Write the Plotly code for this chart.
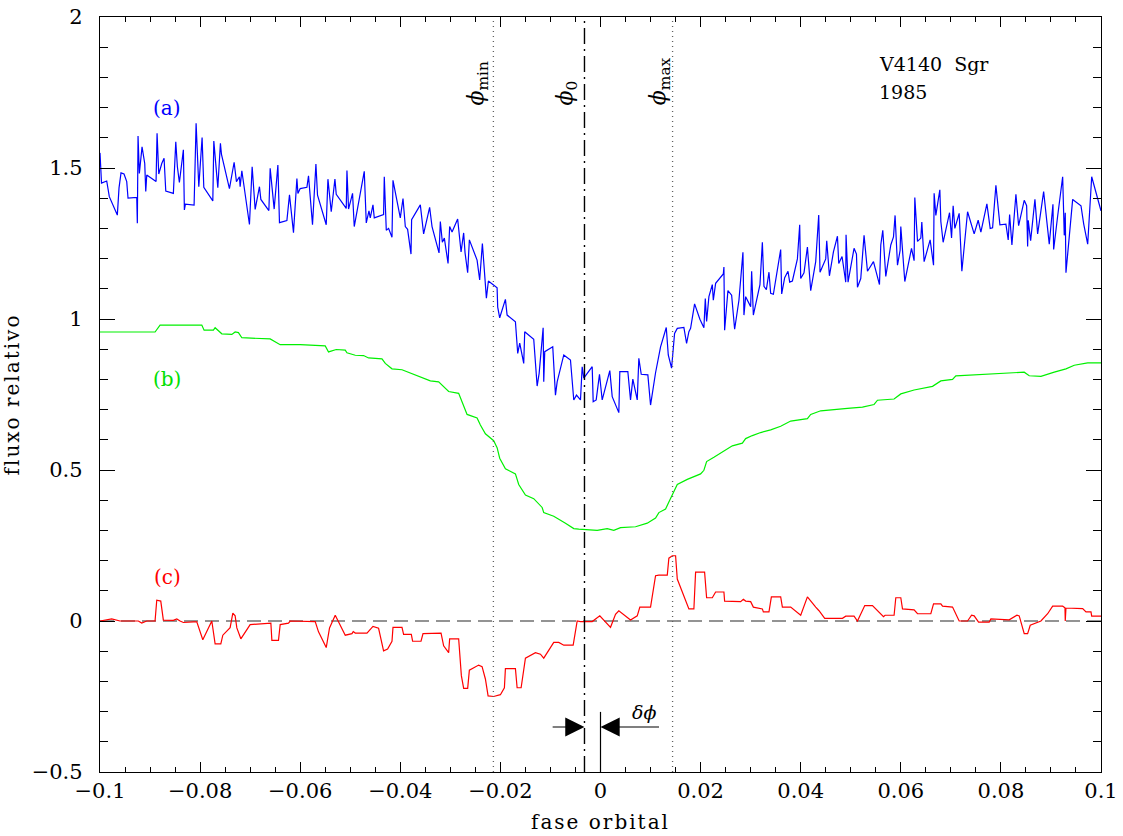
import plotly.graph_objects as go

# (a) observed light curve of V4140 Sgr, 1985
blue_phase = [
    -0.1000, -0.0997, -0.09866, -0.09814, -0.09654, -0.0962, -0.0958, -0.0952, -0.09466, -0.0944,
    -0.09266, -0.09254, -0.0924, -0.09214, -0.0916, -0.09106, -0.09086, -0.09066, -0.0888, -0.0886,
    -0.08826, -0.08766, -0.0872, -0.08686, -0.08534, -0.08486, -0.08454, -0.08414, -0.08334, -0.08314,
    -0.08294, -0.0812, -0.0808, -0.08026, -0.0796, -0.07926, -0.07746, -0.07726, -0.07646, -0.07594,
    -0.07574, -0.07414, -0.0732, -0.07274, -0.07214, -0.0720, -0.07166, -0.07014, -0.0696, -0.0690,
    -0.06814, -0.06786, -0.06626, -0.0660, -0.0652, -0.06446, -0.06414, -0.06266, -0.06214, -0.06134,
    -0.06066, -0.06046, -0.0600,
    -0.05866, -0.05834, -0.05754, -0.05686, -0.05654, -0.0548, -0.05446, -0.0538, -0.05306, -0.0528,
    -0.0508, -0.05066, -0.05034, -0.04954, -0.0492, -0.0472, -0.0468, -0.04626, -0.0460, -0.04546,
    -0.0452, -0.04334, -0.0432, -0.0428, -0.04234, -0.04166, -0.04146, -0.0400, -0.03946, -0.0390,
    -0.03854, -0.03786, -0.03774, -0.0360, -0.03534, -0.03414, -0.03366, -0.03226, -0.0320, -0.0316,
    -0.0312, -0.03046, -0.03014, -0.02966, -0.02854, -0.02786, -0.02734, -0.02706, -0.02654, -0.0262,
    -0.02466, -0.02414, -0.0236, -0.0228, -0.0224, -0.02066, -0.02054, -0.02014,
    -0.0190, -0.01866, -0.0170, -0.01654, -0.01614, -0.01534, -0.01514, -0.01334, -0.01266, -0.01226,
    -0.01146, -0.01134, -0.01114, -0.00954, -0.0090, -0.00866, -0.00734, -0.0060, -0.00534, -0.0048,
    -0.0040, -0.00366, -0.00334, -0.00166, -0.00146, -0.00086, -0.0002, 0.00034, 0.00186, 0.00234,
    0.00366, 0.00386, 0.00546, 0.0060, 0.00646, 0.00734, 0.00766, 0.00814, 0.00946, 0.0100,
    0.0110, 0.0120, 0.01314, 0.01354, 0.0142, 0.0148, 0.01534, 0.01666, 0.0172, 0.01766,
    0.0180, 0.0188, 0.01986,
    0.02066, 0.02094, 0.0212, 0.02166, 0.02234, 0.02254, 0.0230, 0.02454, 0.02466, 0.0248,
    0.02546, 0.0262, 0.0268, 0.02766, 0.02846, 0.02866, 0.0290, 0.0300, 0.0302, 0.03054,
    0.03186, 0.03234, 0.03266, 0.03314, 0.03366, 0.0340, 0.03454, 0.0360, 0.0362, 0.0368,
    0.03746, 0.0378, 0.03834, 0.03934, 0.0398, 0.0400, 0.04066, 0.04134, 0.0420, 0.0430,
    0.0436, 0.04386, 0.0450, 0.0452, 0.04574, 0.04654, 0.04734, 0.0476, 0.04826, 0.0490,
    0.04906, 0.04946, 0.05066, 0.05114, 0.05134, 0.0520, 0.05266, 0.05334, 0.05454, 0.0552,
    0.05574, 0.0560, 0.0564, 0.0570, 0.0580, 0.05854, 0.05886, 0.05934, 0.05986,
    0.0600, 0.06034, 0.0608, 0.06214, 0.06266, 0.0628, 0.06334, 0.0640, 0.0642, 0.06466,
    0.06586, 0.06654, 0.06666, 0.0670, 0.0678, 0.0680, 0.06846, 0.06974, 0.07014, 0.07046,
    0.0708, 0.07166, 0.0722, 0.07334, 0.0740, 0.07466, 0.07546, 0.0760, 0.0772, 0.07786,
    0.07834, 0.0790, 0.0798, 0.0810, 0.08146, 0.08174, 0.0822, 0.0830, 0.08354, 0.08466,
    0.08514, 0.08534, 0.08546, 0.08594, 0.0868, 0.08734, 0.08854, 0.0892, 0.08966, 0.0904,
    0.09054, 0.09134, 0.09234, 0.09266, 0.09286, 0.0930, 0.09434, 0.0960, 0.09654, 0.09734,
    0.09814, 0.1000,
]
blue_flux = [
    1.55, 1.45, 1.457, 1.405, 1.344, 1.434, 1.484, 1.480, 1.455, 1.40,
    1.403, 1.317, 1.606, 1.482, 1.570, 1.515, 1.422, 1.477, 1.455, 1.615,
    1.480, 1.515, 1.532, 1.424, 1.416, 1.587, 1.504, 1.452, 1.560, 1.361,
    1.380, 1.377, 1.648, 1.438, 1.601, 1.436, 1.391, 1.589, 1.435, 1.582,
    1.546, 1.432, 1.519, 1.455, 1.471, 1.438, 1.491, 1.313, 1.504, 1.363,
    1.438, 1.396, 1.359, 1.499, 1.364, 1.510, 1.319, 1.326, 1.411, 1.286,
    1.465, 1.416, 1.432,
    1.436, 1.474, 1.312, 1.513, 1.410, 1.312, 1.463, 1.355, 1.463, 1.413,
    1.366, 1.492, 1.364, 1.416, 1.306, 1.489, 1.318, 1.358, 1.335, 1.378,
    1.335, 1.346, 1.471, 1.294, 1.300, 1.271, 1.459, 1.335, 1.399, 1.306,
    1.297, 1.215, 1.329, 1.378, 1.282, 1.370, 1.306, 1.219, 1.323, 1.254,
    1.268, 1.184, 1.306, 1.288, 1.331, 1.222, 1.285, 1.219, 1.153, 1.262,
    1.195, 1.129, 1.250, 1.069, 1.126, 1.103, 1.039, 1.004,
    1.065, 1.013, 0.991, 0.886, 0.920, 0.853, 0.958, 0.933, 0.778, 0.820,
    0.971, 0.792, 0.892, 0.908, 0.748, 0.792, 0.881, 0.864, 0.732, 0.748,
    0.732, 0.842, 0.804, 0.842, 0.726, 0.732, 0.817, 0.732, 0.829, 0.743,
    0.690, 0.826, 0.826, 0.732, 0.801, 0.732, 0.870, 0.817, 0.815, 0.715,
    0.822, 0.908, 0.972, 0.881, 0.837, 0.952, 0.969, 0.972, 0.919, 0.958,
    0.969, 1.050, 0.999,
    0.971, 1.068, 0.992, 1.074, 1.114, 1.062, 1.118, 1.149, 1.172, 0.963,
    1.094, 1.079, 0.966, 1.062, 1.221, 1.013, 1.074, 1.041, 1.158, 1.013,
    1.114, 1.254, 1.108, 1.097, 1.155, 1.085, 1.082, 1.230, 1.083, 1.137,
    1.158, 1.122, 1.126, 1.199, 1.312, 1.134, 1.153, 1.238, 1.094, 1.190,
    1.344, 1.155, 1.199, 1.259, 1.143, 1.222, 1.274, 1.184, 1.207, 1.122,
    1.279, 1.122, 1.234, 1.215, 1.105, 1.134, 1.277, 1.158, 1.190, 1.143,
    1.114, 1.245, 1.294, 1.141, 1.245, 1.272, 1.343, 1.178, 1.227,
    1.306, 1.236, 1.124, 1.234, 1.193, 1.402, 1.257, 1.268, 1.321, 1.190,
    1.262, 1.178, 1.416, 1.343, 1.428, 1.323, 1.254, 1.352, 1.268, 1.375,
    1.300, 1.350, 1.158, 1.355, 1.318, 1.282, 1.327, 1.288, 1.381, 1.300,
    1.302, 1.443, 1.312, 1.314, 1.262, 1.346, 1.245, 1.413, 1.309, 1.393,
    1.375, 1.240, 1.327, 1.259, 1.396, 1.282, 1.422, 1.312, 1.248, 1.380,
    1.230, 1.341, 1.471, 1.277, 1.352, 1.153, 1.396, 1.375, 1.315, 1.248,
    1.471, 1.358,
]

# (b) model light curve
green_phase = [
    -0.1, -0.089, -0.088, -0.07966, -0.0792, -0.07734, -0.077, -0.07566, -0.07366, -0.073,
    -0.07234, -0.07166, -0.066, -0.064, -0.06, -0.055, -0.05434, -0.0528, -0.051, -0.05066,
    -0.049, -0.04734, -0.04634, -0.04366, -0.043, -0.04166, -0.03966, -0.038, -0.036, -0.034,
    -0.03234, -0.03034, -0.02834, -0.02666, -0.02466, -0.024, -0.023, -0.02134, -0.02066, -0.02014,
    -0.019, -0.017, -0.01634, -0.015, -0.01334, -0.01166, -0.01134, -0.00934, -0.007, -0.00534,
    -0.00434, -0.00066, 0.00134, 0.00266, 0.004, 0.007, 0.00934, 0.011, 0.01166, 0.013,
    0.01366, 0.01434, 0.01534, 0.01734, 0.02, 0.02066, 0.0212, 0.02266, 0.02466, 0.02634,
    0.02834, 0.029, 0.03034, 0.032, 0.034, 0.036, 0.038, 0.04134, 0.042, 0.044,
    0.04934, 0.05234, 0.05466, 0.05534, 0.05866, 0.06, 0.06266, 0.06634, 0.068, 0.07034,
    0.071, 0.074, 0.083, 0.08466, 0.08566, 0.088, 0.09066, 0.093, 0.09466, 0.09734,
    0.1,
]
green_flux = [
    0.957, 0.957, 0.980, 0.980, 0.963, 0.963, 0.971, 0.951, 0.949, 0.957,
    0.955, 0.938, 0.934, 0.915, 0.915, 0.911, 0.891, 0.899, 0.897, 0.888,
    0.880, 0.879, 0.871, 0.868, 0.853, 0.835, 0.832, 0.821, 0.809, 0.795,
    0.792, 0.760, 0.754, 0.684, 0.672, 0.649, 0.620, 0.597, 0.574, 0.539,
    0.504, 0.487, 0.452, 0.417, 0.405, 0.376, 0.359, 0.347, 0.324, 0.306,
    0.304, 0.300, 0.306, 0.300, 0.309, 0.312, 0.324, 0.341, 0.359, 0.371,
    0.394, 0.417, 0.452, 0.469, 0.487, 0.499, 0.528, 0.542, 0.563, 0.580,
    0.589, 0.604, 0.614, 0.624, 0.633, 0.645, 0.662, 0.670, 0.684, 0.696,
    0.704, 0.708, 0.717, 0.731, 0.735, 0.752, 0.765, 0.777, 0.795, 0.800,
    0.812, 0.815, 0.824, 0.824, 0.812, 0.810, 0.824, 0.835, 0.847, 0.855,
    0.855,
]

# (c) residuals
red_phase = [
    -0.1, -0.09834, -0.09766, -0.096, -0.09234, -0.09166, -0.09066, -0.089, -0.08866, -0.08786,
    -0.08734, -0.08534, -0.08466, -0.084, -0.08334, -0.08134, -0.08066, -0.07946, -0.07766, -0.077,
    -0.07586, -0.07546, -0.074, -0.07346, -0.073, -0.07266, -0.07186, -0.07, -0.06666, -0.06586,
    -0.06566, -0.06434, -0.064, -0.06234, -0.062, -0.057, -0.05634, -0.0548, -0.05414, -0.053,
    -0.051, -0.04966, -0.0494, -0.049, -0.04666, -0.04546, -0.04434, -0.04334, -0.04254, -0.04166,
    -0.04146, -0.03966, -0.03934, -0.0378, -0.03754, -0.03586, -0.03546, -0.03186, -0.03134, -0.03034,
    -0.03014, -0.02834, -0.0278, -0.02734, -0.02654, -0.0262, -0.02434, -0.02366, -0.023, -0.02246,
    -0.02134, -0.02, -0.0192, -0.019, -0.017, -0.01666, -0.01586, -0.01534, -0.015, -0.013,
    -0.012, -0.01134, -0.00934, -0.00834, -0.00734, -0.00546, -0.00466, -0.004, -0.00166, -0.00014,
    0.00134, 0.002, 0.003, 0.00366, 0.006, 0.00734, 0.00786, 0.01, 0.011, 0.01166,
    0.01334, 0.01366, 0.01434, 0.015, 0.01534, 0.01666, 0.01766, 0.01866, 0.019, 0.0208,
    0.0212, 0.02234, 0.023, 0.02466, 0.0248, 0.028, 0.02854, 0.029, 0.03, 0.03054,
    0.03234, 0.03254, 0.03366, 0.03414, 0.036, 0.03634, 0.038, 0.04, 0.04134, 0.043,
    0.04366, 0.0448, 0.04834, 0.049, 0.05066, 0.05134, 0.052, 0.0528, 0.05434, 0.055,
    0.056, 0.05654, 0.05686, 0.05866, 0.059, 0.06, 0.06034, 0.06266, 0.06334, 0.066,
    0.06654, 0.068, 0.06834, 0.07034, 0.07166, 0.07334, 0.07414, 0.07466, 0.07554, 0.07766,
    0.078, 0.08166, 0.0832, 0.08366, 0.08466, 0.08534, 0.08586, 0.088, 0.08934, 0.09034,
    0.09234, 0.0928, 0.09286, 0.093, 0.09634, 0.097, 0.098, 0.09814, 0.1,
]
red_flux = [
    0, 0.005, 0.007, 0, 0, -0.007, 0, 0, 0.069, 0.066,
    0.003, 0.002, 0.007, 0, -0.005, -0.003, -0.003, -0.062, 0, -0.076,
    -0.076, -0.047, -0.022, 0.026, 0.017, -0.023, -0.059, -0.012, -0.007, -0.007,
    -0.064, -0.064, -0.012, -0.007, 0, -0.002, -0.036, -0.088, -0.023, 0.019,
    -0.047, -0.042, -0.035, -0.040, -0.040, -0.018, -0.024, -0.099, -0.093, -0.067,
    -0.021, -0.021, -0.044, -0.044, -0.067, -0.067, -0.042, -0.040, -0.082, -0.105,
    -0.059, -0.059, -0.181, -0.223, -0.223, -0.163, -0.146, -0.151, -0.192, -0.248,
    -0.250, -0.244, -0.221, -0.158, -0.158, -0.221, -0.221, -0.169, -0.123, -0.105,
    -0.110, -0.123, -0.071, -0.071, -0.080, -0.080, 0, -0.002, -0.002, 0.017,
    -0.010, -0.021, 0.022, 0.034, 0.003, 0.017, 0.046, 0.046, 0.150, 0.152,
    0.152, 0.208, 0.216, 0.216, 0.139, 0.080, 0.040, 0.040, 0.162, 0.162,
    0.077, 0.077, 0.096, 0.096, 0.066, 0.064, 0.072, 0.066, 0.064, 0.046,
    0.040, 0.030, 0.030, 0.080, 0.080, 0.046, 0.046, 0.019, 0.080, 0.046,
    0.034, 0.009, 0.009, 0.016, 0.016, 0, 0.024, 0.051, 0.051, 0.040,
    0.024, 0.014, 0.019, 0.019, 0.077, 0.077, 0.040, 0.037, 0.024, 0.024,
    0.057, 0.057, 0.049, 0.046, 0, 0, 0.019, 0.017, -0.004, -0.004,
    0.007, 0.004, 0.019, 0.017, -0.042, -0.042, -0.014, 0, 0.024, 0.049,
    0.049, 0.044, 0, 0.043, 0.041, 0.030, 0.030, 0.016, 0.016,
]

assert len(blue_phase) == len(blue_flux)
assert len(green_phase) == len(green_flux)
assert len(red_phase) == len(red_flux)

# Characteristic phases of the eclipse
phi_min = -0.0214
phi_0 = -0.0032
phi_max = 0.0144
arrow_level = -0.351

FONT = "DejaVu Serif"
PHI = "<i>\u03d5</i>"


def spaced(text, px):
    """Wrap text in a span with extra letter spacing."""
    return f'<span style="letter-spacing:{px}px">{text}</span>'


fig = go.Figure()
fig.add_trace(go.Scatter(x=blue_phase, y=blue_flux, mode="lines",
                         line=dict(color="#0000ff", width=1.2), hoverinfo="skip"))
fig.add_trace(go.Scatter(x=green_phase, y=green_flux, mode="lines",
                         line=dict(color="#00f000", width=1.2), hoverinfo="skip"))
fig.add_trace(go.Scatter(x=red_phase, y=red_flux, mode="lines",
                         line=dict(color="#ff0000", width=1.2), hoverinfo="skip"))

shapes = [
    dict(type="line", xref="paper", yref="y", x0=0, x1=1, y0=0, y1=0,
         line=dict(color="#707070", width=1.5, dash="14px,7px"), layer="below"),
    dict(type="line", xref="x", yref="paper", x0=phi_min, x1=phi_min, y0=0, y1=1,
         line=dict(color="#606060", width=1.3, dash="1px,4px")),
    dict(type="line", xref="x", yref="paper", x0=phi_max, x1=phi_max, y0=0, y1=1,
         line=dict(color="#606060", width=1.3, dash="1px,4px")),
    dict(type="line", xref="x", yref="paper", x0=phi_0, x1=phi_0, y0=0, y1=1,
         line=dict(color="black", width=1.4, dash="16px,5px,2px,5px")),
    dict(type="line", xref="x", yref="y", x0=0, x1=0, y0=-0.5, y1=-0.301,
         line=dict(color="black", width=1.2)),
]

annotations = [
    dict(x=-0.0866, y=1.70, text="(a)", showarrow=False,
         font=dict(family=FONT, size=20, color="#0000ff")),
    dict(x=-0.0866, y=0.80, text="(b)", showarrow=False,
         font=dict(family=FONT, size=20, color="#00e000")),
    dict(x=-0.0866, y=0.146, text="(c)", showarrow=False,
         font=dict(family=FONT, size=20, color="#ff0000")),
    dict(x=0.0552, y=1.844, text="V4140\u00a0\u00a0Sgr", showarrow=False,
         xanchor="left", font=dict(family=FONT, size=19, color="black")),
    dict(x=0.0552, y=1.752, text="1985", showarrow=False,
         xanchor="left", font=dict(family=FONT, size=19, color="black")),
    dict(x=-0.0246, y=1.70, text=PHI + "<sub>min</sub>", showarrow=False, textangle=-90,
         yanchor="bottom", font=dict(family=FONT, size=22, color="black")),
    dict(x=-0.0068, y=1.70, text=PHI + "<sub>0</sub>", showarrow=False, textangle=-90,
         yanchor="bottom", font=dict(family=FONT, size=22, color="black")),
    dict(x=0.0118, y=1.70, text=PHI + "<sub>max</sub>", showarrow=False, textangle=-90,
         yanchor="bottom", font=dict(family=FONT, size=22, color="black")),
    dict(x=0.0086, y=-0.301, text="<i>\u03b4\u03d5</i>", showarrow=False,
         font=dict(family=FONT, size=19, color="black")),
    # arrows pointing at phi_0 and at phase zero
    dict(x=phi_0, y=arrow_level, ax=-0.00986, ay=arrow_level, axref="x", ayref="y",
         xref="x", yref="y", text="", showarrow=True, arrowhead=2, arrowsize=3.2,
         arrowwidth=1.2, arrowcolor="black", standoff=0),
    dict(x=0.0, y=arrow_level, ax=0.012, ay=arrow_level, axref="x", ayref="y",
         xref="x", yref="y", text="", showarrow=True, arrowhead=2, arrowsize=3.2,
         arrowwidth=1.2, arrowcolor="black", standoff=0),
]

axis_common = dict(
    showline=True, linecolor="black", linewidth=1.3, mirror="allticks",
    ticks="inside", tickcolor="black", tickwidth=1.1,
    showgrid=False, zeroline=False, automargin=False,
    tickfont=dict(family=FONT, size=21, color="black"),
)

fig.update_layout(
    width=1123, height=836,
    margin=dict(l=100, r=22, t=17, b=64),
    paper_bgcolor="white", plot_bgcolor="white",
    showlegend=False,
    shapes=shapes, annotations=annotations,
    xaxis=dict(range=[-0.1, 0.1], tick0=0, dtick=0.02, ticklen=10,
               minor=dict(dtick=0.005, ticklen=5, ticks="inside", tickcolor="black", tickwidth=1),
               title=dict(text=spaced("fase orbital", 2), standoff=12,
                          font=dict(family=FONT, size=20, color="black")),
               **axis_common),
    yaxis=dict(range=[-0.5, 2], tick0=0, dtick=0.5, ticklen=15,
               minor=dict(dtick=0.1, ticklen=8, ticks="inside", tickcolor="black", tickwidth=1),
               ticklabelstandoff=12,
               title=dict(text=spaced("fluxo relativo", 2), standoff=16,
                          font=dict(family=FONT, size=20, color="black")),
               **axis_common),
)

fig.write_html("out.html")
